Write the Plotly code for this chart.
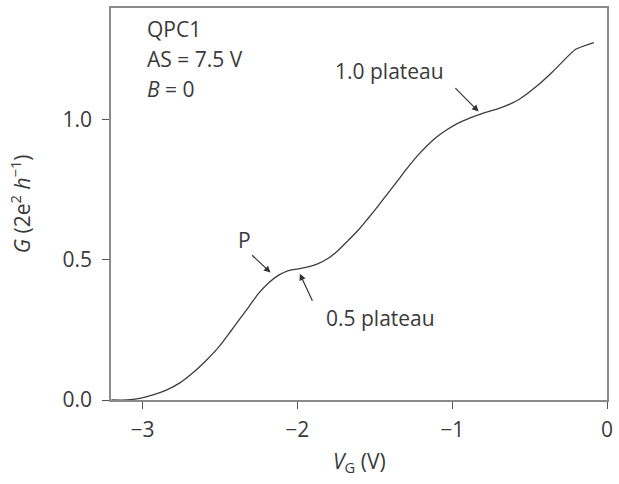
import plotly.graph_objects as go

# Gate voltage sweep (V) and linear conductance in units of 2e^2/h
v_gate = [-3.20, -3.10, -3.017, -2.932, -2.846, -2.761, -2.676, -2.59, -2.505,
          -2.43, -2.37, -2.312, -2.25, -2.184, -2.12, -2.057, -1.993, -1.93,
          -1.865, -1.80, -1.738, -1.674, -1.61, -1.546, -1.48, -1.42, -1.354,
          -1.29, -1.226, -1.162, -1.098, -1.034, -0.97, -0.906, -0.84, -0.778,
          -0.71, -0.65, -0.566, -0.457, -0.351, -0.245, -0.202, -0.085]
conductance = [0.0, 0.0, 0.006, 0.018, 0.035, 0.060, 0.096, 0.140, 0.190,
               0.245, 0.290, 0.333, 0.380, 0.418, 0.445, 0.461, 0.467, 0.474,
               0.486, 0.505, 0.532, 0.567, 0.603, 0.645, 0.690, 0.733, 0.780,
               0.826, 0.869, 0.906, 0.938, 0.963, 0.984, 1.000, 1.014, 1.026,
               1.037, 1.049, 1.072, 1.117, 1.170, 1.229, 1.250, 1.274]

x_ticks = [-3, -2, -1, 0]
x_tick_text = ["\u22123", "\u22122", "\u22121", "0"]
y_ticks = [0.0, 0.5, 1.0]
y_tick_text = ["0.0", "0.5", "1.0"]

# Arrow callouts: (label, label x, label y, arrow tail x, tail y, head x, head y)
callouts = [
    ("1.0 plateau", -1.405, 1.172, -0.989, 1.117, -0.829, 1.028),
    ("P", -2.339, 0.570, -2.301, 0.521, -2.173, 0.454),
    ("0.5 plateau", -1.463, 0.294, -1.898, 0.348, -1.984, 0.450),
]
info_lines = ["QPC1", "AS = 7.5 V", "<i>B</i> = 0"]
info_y = [1.322, 1.215, 1.108]

FONT = "Open Sans"
TXT = "#3a3a3a"
AX = "#8a8a8a"

fig = go.Figure()
fig.add_trace(go.Scatter(
    x=v_gate, y=conductance, mode="lines",
    line=dict(color="#3c3c3c", width=1.3, shape="spline", smoothing=0.7),
    hoverinfo="skip", showlegend=False,
))

annotations = []
for label, lx, ly, tx, ty, hx, hy in callouts:
    annotations.append(dict(x=lx, y=ly, xref="x", yref="y", text=label,
                            showarrow=False, xanchor="center", yanchor="middle",
                            font=dict(family=FONT, size=21, color=TXT)))
    annotations.append(dict(x=hx, y=hy, xref="x", yref="y", ax=tx, ay=ty,
                            axref="x", ayref="y", text="", showarrow=True,
                            arrowhead=2, arrowsize=1.1, arrowwidth=1.2,
                            arrowcolor="#333333"))
for line, yy in zip(info_lines, info_y):
    annotations.append(dict(x=-2.985, y=yy, xref="x", yref="y", text=line,
                            showarrow=False, xanchor="left", yanchor="middle",
                            font=dict(family=FONT, size=21, color=TXT)))

# Axis titles
annotations.append(dict(x=0.5, y=-0.157, xref="paper", yref="paper",
                        text="<i>V</i><sub>G</sub> (V)", showarrow=False,
                        xanchor="center", yanchor="middle",
                        font=dict(family=FONT, size=21, color=TXT)))
annotations.append(dict(x=-0.183, y=0.5, xref="paper", yref="paper",
                        text="<i>G</i> (2e<sup>2</sup> <i>h</i><sup>\u22121</sup>)",
                        showarrow=False, textangle=-90,
                        xanchor="center", yanchor="middle",
                        font=dict(family=FONT, size=21, color=TXT)))

fig.update_layout(
    width=619, height=484,
    margin=dict(l=111, r=7, t=6, b=84),
    paper_bgcolor="white", plot_bgcolor="white",
    annotations=annotations,
    xaxis=dict(range=[-3.203, 0.0], tickvals=x_ticks, ticktext=x_tick_text,
               showgrid=False, zeroline=False, showline=True, mirror=True,
               linecolor=AX, linewidth=1.5, ticks="outside", ticklen=7,
               tickcolor="#555555", tickwidth=1.2, ticklabelstandoff=3,
               tickfont=dict(family=FONT, size=21, color=TXT)),
    yaxis=dict(range=[0.0, 1.397], tickvals=y_ticks, ticktext=y_tick_text,
               showgrid=False, zeroline=False, showline=True, mirror=True,
               linecolor=AX, linewidth=1.5, ticks="outside", ticklen=7,
               tickcolor="#555555", tickwidth=1.2, ticklabelstandoff=6,
               tickfont=dict(family=FONT, size=21, color=TXT)),
)

fig.write_html("out.html")
